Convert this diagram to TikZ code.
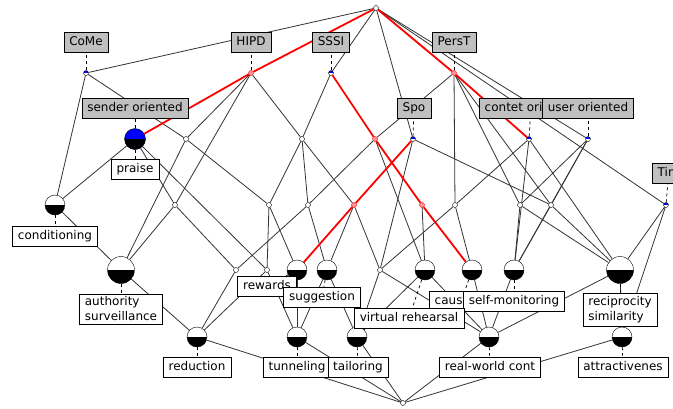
\documentclass[tikz,border=0pt]{standalone}
\usepackage{fontspec}
\setmainfont{DejaVu Sans}
\usetikzlibrary{backgrounds}
\definecolor{boxgray}{RGB}{192,192,192}
\tikzset{
  small/.style={circle,draw=black,fill=white,inner sep=0pt,minimum size=5pt},
  sattr/.style={small,path picture={\fill[blue] (path picture bounding box.north west) rectangle (path picture bounding box.east);}},
  sred/.style={small,draw=red,fill=red!40},
  half/.style={circle,draw=black,fill=white,inner sep=0pt,minimum size=#1,
    path picture={\fill[black] (path picture bounding box.west) rectangle (path picture bounding box.south east);}},
  bhalf/.style={circle,draw=black,fill=blue,inner sep=0pt,minimum size=#1,
    path picture={\fill[black] (path picture bounding box.west) rectangle (path picture bounding box.south east);}},
  lab/.style={draw=black,inner xsep=5.5pt,inner ysep=0pt,minimum height=20pt,text height=9pt,text depth=2.5pt},
  attr/.style={lab,fill=boxgray},
  obj/.style={lab,fill=white},
  obj2/.style={draw=black,fill=white,inner xsep=5.5pt,inner ysep=3pt,align=left},
  edge/.style={black!80,line width=0.8pt},
  hl/.style={red,line width=1.8pt},
  lk/.style={black,dashed,line width=0.7pt}
}
\begin{document}
\begin{tikzpicture}[x=1pt,y=-1pt,font=\fontsize{12}{15}\selectfont]
\useasboundingbox (0,0) rectangle (673,408);
% concepts
\foreach \n/\x/\y in {T/376/8,B2/186/139,B3/302/139,C2/175/205,C3/269/205,C4/308/205,
  C7/455/205,C8/520/205,C9/551/205,D2/236/270,D3/267/270,D6/380/270,Bot/403/403}
  \node[small] (\n) at (\x,\y) {};
\foreach \n/\x/\y in {A1/86/73,A3/331/73,B5/413/139,B6/529/139,B7/588/139,C10/666/205}
  \node[sattr] (\n) at (\x,\y) {};
\foreach \n/\x/\y in {A2/251/73,A4/454/73,B4/375/139,C5/354/205,C6/422/205}
  \node[sred] (\n) at (\x,\y) {};
\node[bhalf=21pt] (B1) at (135,139) {};
\node[half=20pt] (C1) at (55,205) {};
\node[half=27pt] (D1) at (121,270) {};
\node[half=27pt] (D10) at (620,270) {};
\foreach \n/\x/\y in {D4/297/270,D5/327/270,D7/425/270,D8/472/270,D9/514/270,
  E1/197/337,E2/297/337,E3/357/337,E4/489/337,E5/622/337}
  \node[half=20pt] (\n) at (\x,\y) {};
% attribute labels
\node[attr] (lCoMe) at (86,42) {CoMe};
\node[attr] (lHIPD) at (251,42) {HIPD};
\node[attr] (lSSSI) at (331,42) {SSSI};
\node[attr] (lPersT) at (454,42) {PersT};
\node[attr] (lsend) at (135,108) {sender oriented};
\node[attr] (lSpo) at (414,108) {Spo};
\node[attr,anchor=west] (lcont) at (479,108) {contet oriented};
\node[attr] (luser) at (588,108) {user oriented};
\node[attr,anchor=west] (lTim) at (652,173) {Tim};
% object labels
\node[obj] (lpraise) at (135,169) {praise};
\node[obj] (lcond) at (55,236) {conditioning};
\node[obj2] (lauth) at (121,309) {authority\\surveillance};
\node[obj] (lrew) at (267,286) {rewards};
\node[obj] (lsugg) at (322,297) {suggestion};
\node[obj,anchor=west] (lcaus) at (429,301) {causality};
\node[obj] (lself) at (514,301) {self-monitoring};
\node[obj] (lvirt) at (409,318) {virtual rehearsal};
\node[obj2] (lrecip) at (620,310) {reciprocity\\similarity};
\node[obj] (lred) at (197,367) {reduction};
\node[obj] (ltun) at (297,367) {tunneling};
\node[obj] (ltail) at (358,367) {tailoring};
\node[obj] (lreal) at (490,367) {real-world cont};
\node[obj] (lattr) at (623,367) {attractivenes};
\begin{scope}[on background layer]
\foreach \a/\b in {T/A1,T/A3,T/B5,T/B7,T/C10,
  A1/B2,A1/C1,A2/B2,A2/B3,A2/C2,A3/B3,A4/B4,A4/C7,A4/C8,A4/C9,
  B1/C1,B1/C2,B1/D3,B2/D1,B2/C3,B3/C3,B3/C4,B3/C5,B4/C4,B4/D7,
  B5/C9,B5/D6,B6/C7,B6/D9,B6/D10,B7/C8,B7/C9,B7/D9,
  C1/D1,C2/D1,C2/D2,C3/D3,C3/D4,C4/D2,C4/D5,C5/D5,C5/D6,C6/D7,
  C7/D8,C7/D6,C8/D9,C8/D10,C9/D10,C9/D9,C10/D10,C10/E5,
  D1/E1,D2/E1,D3/E1,D3/E2,D4/E2,D5/E2,D5/E3,D6/E3,D6/E4,D7/E3,D7/E4,
  D8/E4,D9/E4,D10/E4,D10/E5,E1/Bot,E2/Bot,E3/Bot,E4/Bot,E5/Bot}
  \draw[edge] (\a) -- (\b);
\foreach \a/\b in {T/A2,A2/B1,T/A4,A4/B6,A3/B4,B4/C6,C6/D8,B5/C5,C5/D4}
  \draw[hl] (\a) -- (\b);
\foreach \a/\b in {A1/lCoMe,A2/lHIPD,A3/lSSSI,A4/lPersT,B1/lsend,B5/lSpo,B6/lcont,
  B7/luser,C10/lTim,B1/lpraise,C1/lcond,D1/lauth,D4/lrew,D5/lsugg,D7/lvirt,
  D8/lcaus,D9/lself,D10/lrecip,E1/lred,E2/ltun,E3/ltail,E4/lreal,E5/lattr}
  \draw[lk] (\a) -- (\b);
\end{scope}
\end{tikzpicture}
\end{document}
